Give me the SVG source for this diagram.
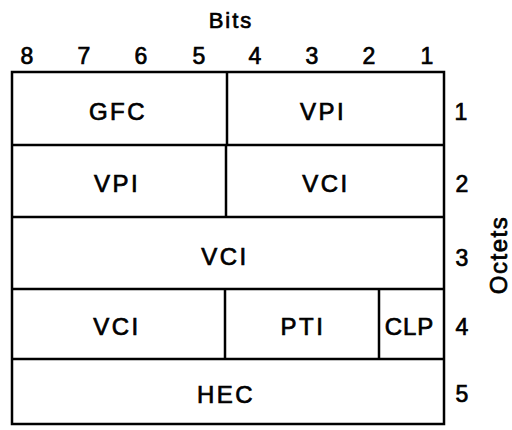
<svg xmlns="http://www.w3.org/2000/svg" width="512" height="430" viewBox="0 0 512 430">
<style>
text{font-family:"Liberation Sans",Arial,sans-serif;fill:#000;stroke:#000;stroke-width:0.7}
.lbl{font-size:24px;text-anchor:middle;letter-spacing:2.5px}
.num{font-size:23px;text-anchor:middle}
.oct{font-size:23px;text-anchor:middle}
.ln{stroke:#000;stroke-width:2.5;fill:none}
</style>
<rect width="512" height="430" fill="#fff"/>
<g id="axes">
<text x="231" y="28" class="lbl" style="font-size:22px;letter-spacing:2px">Bits</text>
<text x="27" y="64" class="num">8</text>
<text x="84" y="64" class="num">7</text>
<text x="141" y="64" class="num">6</text>
<text x="199" y="64" class="num">5</text>
<text x="255" y="64" class="num">4</text>
<text x="312" y="64" class="num">3</text>
<text x="369" y="64" class="num">2</text>
<text x="427" y="64" class="num">1</text>
<text x="461" y="120" class="oct">1</text>
<text x="462" y="192" class="oct">2</text>
<text x="462" y="266" class="oct">3</text>
<text x="462" y="335" class="oct">4</text>
<text x="462" y="402" class="oct">5</text>
<text transform="translate(507,255) rotate(-90)" class="oct" style="font-size:24px;letter-spacing:1.5px">Octets</text>
</g>
<g id="connectors">
<rect class="ln" x="12" y="72" width="432" height="352"/>
<line class="ln" x1="12" y1="145" x2="444" y2="145"/>
<line class="ln" x1="12" y1="217" x2="444" y2="217"/>
<line class="ln" x1="12" y1="289" x2="444" y2="289"/>
<line class="ln" x1="12" y1="359" x2="444" y2="359"/>
<line class="ln" x1="227" y1="72" x2="227" y2="145"/>
<line class="ln" x1="226" y1="145" x2="226" y2="217"/>
<line class="ln" x1="225" y1="289" x2="225" y2="359"/>
<line class="ln" x1="379" y1="289" x2="379" y2="359"/>
</g>
<g id="gfc"><text x="118" y="120" class="lbl">GFC</text></g>
<g id="vpi1"><text x="323" y="120" class="lbl">VPI</text></g>
<g id="vpi2"><text x="117" y="192" class="lbl">VPI</text></g>
<g id="vci2"><text x="326" y="192" class="lbl">VCI</text></g>
<g id="vci3"><text x="225" y="265" class="lbl">VCI</text></g>
<g id="vci4"><text x="117" y="335" class="lbl">VCI</text></g>
<g id="pti"><text x="303" y="335" class="lbl">PTI</text></g>
<g id="clp"><text x="409.5" y="335" class="lbl" style="letter-spacing:1px">CLP</text></g>
<g id="hec"><text x="226" y="403" class="lbl">HEC</text></g>
</svg>
